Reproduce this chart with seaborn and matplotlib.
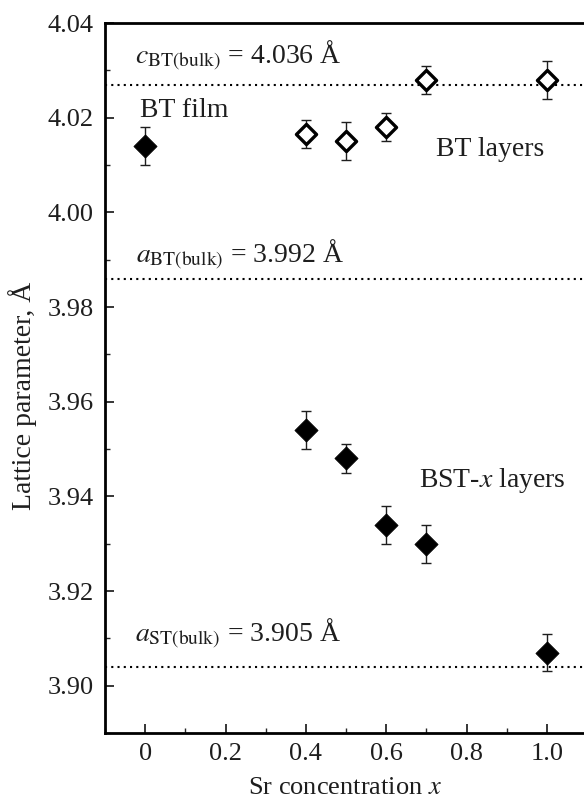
import matplotlib
matplotlib.use("Agg")
import matplotlib.pyplot as plt
import matplotlib.ticker as mticker
import pandas as pd
import seaborn as sns

# data
x_bst = [0.0, 0.4, 0.5, 0.6, 0.7, 1.0]
a_bst = [4.014, 3.954, 3.948, 3.934, 3.930, 3.907]
err_bst = [0.004, 0.004, 0.003, 0.004, 0.004, 0.004]

x_bt = [0.4, 0.5, 0.6, 0.7, 1.0]
c_bt = [4.0165, 4.015, 4.018, 4.028, 4.028]
err_bt = [0.003, 0.004, 0.003, 0.003, 0.004]

ref_lines = [4.027, 3.986, 3.904]

x_ticks = [0, 0.2, 0.4, 0.6, 0.8, 1.0]
x_ticklabels = ["0", "0.2", "0.4", "0.6", "0.8", "1.0"]
y_ticks = [3.90, 3.92, 3.94, 3.96, 3.98, 4.00, 4.02, 4.04]

sns.set_theme(style="ticks")
plt.rcParams['font.family'] = ['Liberation Serif', 'DejaVu Serif']
plt.rcParams['mathtext.fontset'] = 'stix'

ink = '#1e1e1e'
df_bst = pd.DataFrame({'x': x_bst, 'a': a_bst})
df_bt = pd.DataFrame({'x': x_bt, 'c': c_bt})

fig = plt.figure(figsize=(5.84, 8.0), dpi=100)
ax = fig.add_axes([105/584, 67/800, 479/584, 710/800])

# reference dotted lines
for yv in ref_lines:
    ax.axhline(yv, color='black', ls=(0, (1, 2)), lw=1.5, zorder=1)

# error bars
ax.errorbar(x_bst, a_bst, yerr=err_bst, fmt='none', ecolor=ink,
            elinewidth=1.0, capsize=3.6, capthick=1.0, zorder=2)
ax.errorbar(x_bt, c_bt, yerr=err_bt, fmt='none', ecolor=ink,
            elinewidth=1.0, capsize=3.6, capthick=1.0, zorder=2)

# markers
sns.scatterplot(data=df_bst, x='x', y='a', marker='D', s=140, color='black',
                edgecolor='black', linewidth=0.5, ax=ax, zorder=3)
sns.scatterplot(data=df_bt, x='x', y='c', marker='D', s=105, facecolor='white',
                edgecolor='black', linewidth=2.4, ax=ax, zorder=3)

ax.set_xlim(-0.1, 1.0925)
ax.set_ylim(3.89, 4.04)

ax.set_xticks(x_ticks)
ax.set_xticklabels(x_ticklabels)
ax.set_yticks(y_ticks)
ax.yaxis.set_major_formatter(mticker.FormatStrFormatter('%.2f'))
ax.xaxis.set_minor_locator(mticker.MultipleLocator(0.1))
ax.yaxis.set_minor_locator(mticker.MultipleLocator(0.01))
ax.tick_params(axis='both', which='major', direction='in', length=6.5, width=1.1,
               labelsize=19, colors='black', labelcolor=ink)
ax.tick_params(axis='x', which='major', pad=7)
ax.tick_params(axis='y', which='major', pad=8)
ax.tick_params(axis='both', which='minor', direction='in', length=3.5, width=1.0)
ax.tick_params(top=False, right=False, which='both')

for side in ['left', 'bottom', 'top']:
    ax.spines[side].set_linewidth(2)
    ax.spines[side].set_color('black')
ax.spines['right'].set_visible(False)

ax.set_xlabel(r"Sr concentration $x$", fontsize=19, color=ink)
ax.xaxis.set_label_coords(0.5, -0.062)
ax.set_ylabel("Lattice parameter, Å", fontsize=20, color=ink)
ax.yaxis.set_label_coords(-0.142, 0.475)

ts = 20
ax.text(-0.025, 4.0314, r"$c_{\mathrm{BT(bulk)}}$ = 4.036 Å", fontsize=ts, color=ink)
ax.text(-0.012, 4.0202, "BT film", fontsize=ts, color=ink)
ax.text(0.724, 4.0118, "BT layers", fontsize=ts, color=ink)
ax.text(-0.022, 3.9893, r"$a_{\mathrm{BT(bulk)}}$ = 3.992 Å", fontsize=ts, color=ink)
ax.text(0.682, 3.942, r"BST-$x$ layers", fontsize=ts, color=ink)
ax.text(-0.025, 3.9092, r"$a_{\mathrm{ST(bulk)}}$ = 3.905 Å", fontsize=ts, color=ink)

fig.savefig("out.png", dpi=100)
